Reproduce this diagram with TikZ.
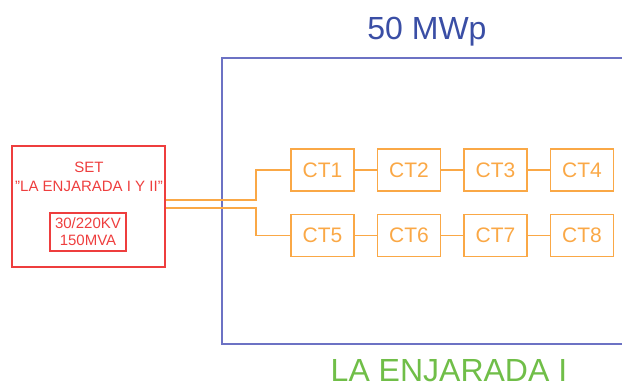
\documentclass[tikz,border=0pt]{standalone}
\usepackage{fontspec}
\setmainfont{Liberation Sans}
\usetikzlibrary{positioning}
\definecolor{setred}{RGB}{238,62,62}
\definecolor{ctorange}{RGB}{250,168,70}
\definecolor{plantblue}{RGB}{58,78,165}
\definecolor{frameblue}{RGB}{108,114,196}
\definecolor{plantgreen}{RGB}{112,190,72}

\begin{document}
\begin{tikzpicture}[x=0.5pt, y=-0.5pt,
    ct/.style={draw=ctorange, line width=0.75pt, text=ctorange, minimum width=31.5pt, minimum height=21pt,
               inner sep=0pt, font=\fontsize{10.5}{12}\selectfont},
    feeder/.style={draw=ctorange, line width=0.75pt},
    title/.style={font=\fontsize{16}{19}\selectfont, anchor=base, inner sep=0pt}]
    \useasboundingbox (0,0) rectangle (622,387);
    % plant frame
    \draw[frameblue, line width=0.75pt] (622,58) -- (222,58) -- (222,344) -- (622,344);
    \node[title, text=plantblue] (mwp) at (427,39.5) {50 MWp};
    \node[title, text=plantgreen] (plant) at (449,381) {LA ENJARADA I};

    % substation
    \node[draw=setred, line width=0.75pt, minimum width=76.5pt, minimum height=60.5pt] (set) at (88.5,206.5) {};
    \node[text=setred, font=\fontsize{7.5}{9.25}\selectfont, align=center] (setname) at (89,177) {SET\\"LA ENJARADA I Y II"};
    \node[draw=setred, line width=0.6pt, text=setred, font=\fontsize{7.5}{8.5}\selectfont, align=center,
          minimum width=38pt, minimum height=19pt, inner sep=0pt] (trafo) at (88,232) {30/220KV\\150MVA};

    % power stations
    \node[ct] (ct1) at (322.5,170) {CT1};
    \node[ct, right=11pt of ct1] (ct2) {CT2};
    \node[ct, right=11pt of ct2] (ct3) {CT3};
    \node[ct, right=11pt of ct3] (ct4) {CT4};
    \node[ct] (ct5) at (322.5,235.5) {CT5};
    \node[ct, right=11pt of ct5] (ct6) {CT6};
    \node[ct, right=11pt of ct6] (ct7) {CT7};
    \node[ct, right=11pt of ct7] (ct8) {CT8};
    \foreach \a/\b in {1/2,2/3,3/4,5/6,6/7,7/8}
        \draw[feeder] (ct\a) -- (ct\b);

    % feeders
    \coordinate (bus) at (256,0);
    \draw[feeder] (set.east |- 0,200) -| (bus |- ct1.west) -- (ct1.west);
    \draw[feeder] (set.east |- 0,208) -| (bus |- ct5.west) -- (ct5.west);
\end{tikzpicture}
\end{document}
